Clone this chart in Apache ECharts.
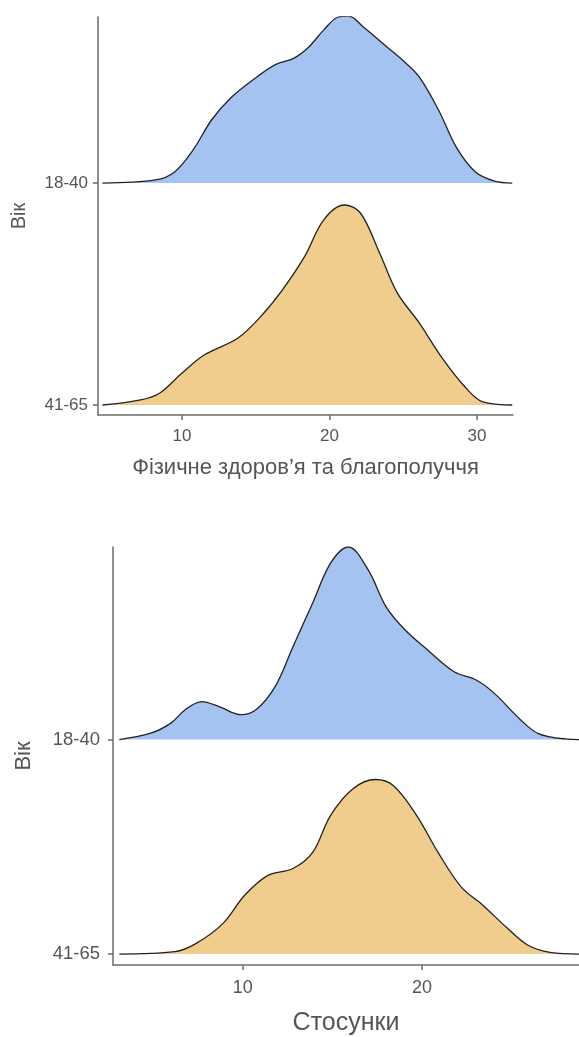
<!DOCTYPE html>
<html>
<head>
<meta charset="utf-8">
<script src="https://cdn.jsdelivr.net/npm/echarts@6/dist/echarts.min.js"></script>
<style>
  html, body { margin: 0; padding: 0; background: #fff; }
  #main { width: 579px; height: 1037px; }
</style>
</head>
<body>
<div id="main"></div>
<script>
// ridge heights are in units of the spacing between the two age groups
const ageGroups = ['41-65', '18-40']

// top panel: Фізичне здоров'я та благополуччя
const healthYoungX = [4.6, 8.2, 9.5, 10.75, 12.0, 13.3, 14.8, 16.3, 17.6, 18.6, 19.6, 20.6, 21.3, 22.3, 23.9, 25.1, 26.1, 27.4, 28.6, 29.9, 31.2, 32.4]
const healthYoungH = [0, 0.014, 0.05, 0.149, 0.284, 0.383, 0.464, 0.532, 0.563, 0.613, 0.689, 0.748, 0.752, 0.703, 0.613, 0.545, 0.477, 0.329, 0.162, 0.05, 0.009, 0]
const healthOldX = [4.6, 7.2, 8.5, 10.0, 11.5, 13.8, 15.3, 16.8, 18.3, 19.6, 21.0, 22.1, 23.4, 24.6, 26.1, 27.6, 29.2, 30.4, 32.4]
const healthOldH = [0, 0.023, 0.054, 0.144, 0.225, 0.302, 0.396, 0.518, 0.667, 0.833, 0.901, 0.865, 0.685, 0.505, 0.369, 0.216, 0.081, 0.014, 0]

// bottom panel: Стосунки
const relYoungX = [3.1, 4.9, 6.0, 6.8, 7.7, 8.7, 9.9, 10.75, 11.8, 12.8, 13.9, 14.9, 15.9, 17.0, 18.0, 19.05, 20.3, 21.8, 23.0, 24.0, 25.5, 26.5, 28.0, 29.0]
const relYoungH = [0, 0.031, 0.078, 0.14, 0.177, 0.153, 0.116, 0.14, 0.247, 0.433, 0.637, 0.823, 0.898, 0.791, 0.619, 0.512, 0.419, 0.316, 0.279, 0.219, 0.093, 0.028, 0.003, 0]
const relOldX = [3.1, 6.2, 7.4, 8.9, 10.1, 11.4, 12.8, 13.9, 14.9, 16.15, 17.4, 18.4, 19.7, 20.9, 22.2, 23.4, 24.7, 25.9, 27.15, 29.0]
const relOldH = [0, 0.011, 0.05, 0.143, 0.274, 0.367, 0.399, 0.474, 0.647, 0.771, 0.814, 0.786, 0.647, 0.474, 0.312, 0.228, 0.126, 0.042, 0.008, 0]

const healthTicks = [10, 20, 30]
const relTicks = [10, 20]

const blue = '#a4c3f0'
const orange = '#f0cd8c'
const axisColor = '#6b6b6b'
const textColor = '#555'
const font = '"Liberation Sans", Arial, sans-serif'

function ridge (xs, hs, base, color, idx) {
  return {
    type: 'line',
    xAxisIndex: idx,
    yAxisIndex: idx,
    smooth: 0.35,
    symbol: 'none',
    data: xs.map((x, i) => [x, base + hs[i]]),
    lineStyle: { color: '#222', width: 1.3 },
    areaStyle: { color: color, opacity: 1, origin: base },
    silent: true,
    animation: false
  }
}

function xAxisFor (idx, min, max, ticks, name, labelSize, labelMargin, nameSize, nameGap) {
  return {
    type: 'value',
    gridIndex: idx,
    min: min,
    max: max,
    splitLine: { show: false },
    axisLine: { onZero: false, lineStyle: { color: axisColor, width: 1.5 } },
    axisTick: { customValues: ticks, length: 5, lineStyle: { color: axisColor, width: 1.5 } },
    axisLabel: { customValues: ticks, color: textColor, fontSize: labelSize, fontFamily: font, margin: labelMargin },
    name: name,
    nameLocation: 'middle',
    nameGap: nameGap,
    nameTextStyle: { color: textColor, fontSize: nameSize, fontFamily: font }
  }
}

function yAxisFor (idx, min, max, labelSize, labelMargin, nameSize, nameGap) {
  return {
    type: 'value',
    gridIndex: idx,
    min: min,
    max: max,
    splitLine: { show: false },
    axisLine: { onZero: false, lineStyle: { color: axisColor, width: 1.5 } },
    axisTick: { customValues: [0, 1], length: 5, lineStyle: { color: axisColor, width: 1.5 } },
    axisLabel: {
      customValues: [0, 1],
      formatter: (v) => ageGroups[Math.round(v)],
      color: textColor,
      fontSize: labelSize,
      fontFamily: font,
      margin: labelMargin
    },
    name: 'Вік',
    nameLocation: 'middle',
    nameRotate: 90,
    nameGap: nameGap,
    nameTextStyle: { color: textColor, fontSize: nameSize, fontFamily: font }
  }
}

const chart = echarts.init(document.getElementById('main'))

const option = {
  backgroundColor: '#fff',
  animation: false,
  grid: [
    { left: 98, right: 66, top: 17, bottom: 622 },
    { left: 113, right: 0, top: 547, bottom: 71 }
  ],
  xAxis: [
    xAxisFor(0, 4.3, 32.45, healthTicks, 'Фізичне здоров’я та благополуччя', 17, 13, 22, 42),
    xAxisFor(1, 2.75, 28.77, relTicks, 'Стосунки', 18, 14, 25, 46)
  ],
  yAxis: [
    yAxisFor(0, -0.045, 1.748, 17, 10, 20, 69),
    yAxisFor(1, -0.051, 1.898, 18.5, 13, 22, 78)
  ],
  series: [
    ridge(healthYoungX, healthYoungH, 1, blue, 0),
    ridge(healthOldX, healthOldH, 0, orange, 0),
    ridge(relYoungX, relYoungH, 1, blue, 1),
    ridge(relOldX, relOldH, 0, orange, 1)
  ]
}

chart.setOption(option)
</script>
</body>
</html>
